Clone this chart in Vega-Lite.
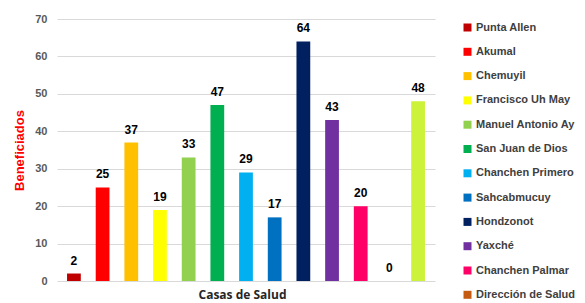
{
  "$schema": "https://vega.github.io/schema/vega-lite/v6.json",
  "width": 378,
  "height": 262,
  "autosize": "none",
  "padding": {"left": 57, "top": 19, "right": 150, "bottom": 22},
  "background": "white",
  "data": {"values": [
    {"casa": "Punta Allen", "beneficiados": 2},
    {"casa": "Akumal", "beneficiados": 25},
    {"casa": "Chemuyil", "beneficiados": 37},
    {"casa": "Francisco Uh May", "beneficiados": 19},
    {"casa": "Manuel Antonio Ay", "beneficiados": 33},
    {"casa": "San Juan de Dios", "beneficiados": 47},
    {"casa": "Chanchen Primero", "beneficiados": 29},
    {"casa": "Sahcabmucuy", "beneficiados": 17},
    {"casa": "Hondzonot", "beneficiados": 64},
    {"casa": "Yaxché", "beneficiados": 43},
    {"casa": "Chanchen Palmar", "beneficiados": 20},
    {"casa": "Dirección de Salud", "beneficiados": 0},
    {"casa": "Tulum", "beneficiados": 48}
  ]},
  "config": {
    "view": {"stroke": null},
    "font": "Liberation Sans"
  },
  "encoding": {
    "x": {
      "field": "casa", "type": "nominal",
      "sort": ["Punta Allen","Akumal","Chemuyil","Francisco Uh May","Manuel Antonio Ay","San Juan de Dios","Chanchen Primero","Sahcabmucuy","Hondzonot","Yaxché","Chanchen Palmar","Dirección de Salud","Tulum"],
      "scale": {"paddingInner": 0.52, "paddingOuter": 0.35},
      "axis": {"labels": false, "ticks": false, "domain": false, "title": "Casas de Salud", "titleFontSize": 12, "titleFontWeight": "bold", "titleColor": "#262626", "titlePadding": 8, "titleFont": "Open Sans", "titleX": 185}
    },
    "y": {
      "field": "beneficiados", "type": "quantitative",
      "scale": {"domain": [0, 70]},
      "axis": {"values": [0,10,20,30,40,50,60,70], "domain": false, "ticks": false, "labelPadding": 10, "labelFontSize": 11, "labelFontWeight": "bold", "labelColor": "#595959", "gridColor": "#D9D9D9", "title": "Beneficiados", "titleColor": "#FF0000", "titleFontSize": 13, "titleFontWeight": "bold", "titlePadding": 8}
    }
  },
  "layer": [
    {
      "mark": {"type": "bar"},
      "encoding": {
        "color": {
          "field": "casa", "type": "nominal",
          "scale": {
            "domain": ["Punta Allen","Akumal","Chemuyil","Francisco Uh May","Manuel Antonio Ay","San Juan de Dios","Chanchen Primero","Sahcabmucuy","Hondzonot","Yaxché","Chanchen Palmar","Dirección de Salud","Tulum"],
            "range": ["#C00000","#FF0000","#FFC000","#FFFF00","#92D050","#00B050","#00B0F0","#0070C0","#002060","#7030A0","#FF0066","#C55A11","#CCF23A"]
          },
          "legend": {
            "values": ["Punta Allen","Akumal","Chemuyil","Francisco Uh May","Manuel Antonio Ay","San Juan de Dios","Chanchen Primero","Sahcabmucuy","Hondzonot","Yaxché","Chanchen Palmar","Dirección de Salud"],
            "title": null, "orient": "none", "legendX": 405, "legendY": 3,
            "symbolType": "square", "symbolSize": 64, "symbolStrokeWidth": 0,
            "labelFontSize": 11, "labelFontWeight": "bold", "labelColor": "#404040",
            "rowPadding": 12.3, "labelOffset": 3, "labelLimit": 300
          }
        }
      }
    },
    {
      "mark": {"type": "text", "baseline": "bottom", "dy": -6, "fontSize": 12, "fontWeight": "bold", "color": "#000000"},
      "encoding": {"text": {"field": "beneficiados", "type": "quantitative"}}
    }
  ]
}
